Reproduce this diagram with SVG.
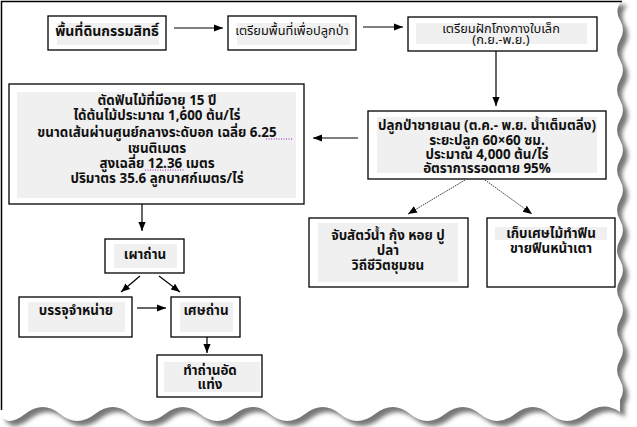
<svg xmlns="http://www.w3.org/2000/svg" width="637" height="427" viewBox="0 0 637 427">
<style>
.box{fill:#fff;stroke:#000;stroke-width:1.3}
.hl{fill:#f0f0f0}
.t{font-family:Tahoma,"Noto Sans Thai","Liberation Sans",sans-serif;font-size:13.4px;font-weight:bold;fill:#111;text-anchor:middle}
.n{font-weight:normal;font-size:12.8px}
.c{stroke:#000;stroke-width:1.2;fill:none;marker-end:url(#ah)}
.d{stroke:#333;stroke-width:1;stroke-dasharray:1.5 1;fill:none;marker-end:url(#ah)}
.sp{stroke:#a020c0;stroke-width:1;stroke-dasharray:1 1.5;fill:none}
</style>
<defs>
<marker id="ah" viewBox="0 0 10 10" refX="10" refY="5" markerWidth="9" markerHeight="9" markerUnits="userSpaceOnUse" orient="auto">
<path d="M0,1 L10,5 L0,9 z" fill="#000"/>
</marker>
<filter id="blur" x="-5%" y="-5%" width="110%" height="110%"><feGaussianBlur stdDeviation="2"/></filter>
</defs>
<rect width="637" height="427" fill="#fff"/>
<g id="paper">
<path d="M0,0 H622 Q614,10 620,20 T620,40 T620,60 T620,80 T620,100 T620,120 T620,140 T620,160 T620,180 T620,200 T620,220 T620,240 T620,260 T620,280 T620,300 T620,320 T620,340 T620,360 T620,380 T620,400 L620,412 Q603,400 585,414 T550,414 T515,414 T480,414 T445,414 T410,414 T375,414 T340,414 T305,414 T270,414 T235,414 T200,414 T165,414 T130,414 T95,414 T60,414 T25,414 T0,414 Z" fill="#777" transform="translate(5,5)" filter="url(#blur)"/>
<path d="M0,0 H622 Q614,10 620,20 T620,40 T620,60 T620,80 T620,100 T620,120 T620,140 T620,160 T620,180 T620,200 T620,220 T620,240 T620,260 T620,280 T620,300 T620,320 T620,340 T620,360 T620,380 T620,400 L620,412 Q603,400 585,414 T550,414 T515,414 T480,414 T445,414 T410,414 T375,414 T340,414 T305,414 T270,414 T235,414 T200,414 T165,414 T130,414 T95,414 T60,414 T25,414 T0,414 Z" fill="#fff"/>
<path d="M1.5,410 V1.5 H622" fill="none" stroke="#000" stroke-width="1.5"/>
</g>
<g id="connectors">
<line class="c" x1="174" y1="28" x2="223" y2="28"/>
<line class="c" x1="363" y1="27" x2="403" y2="27"/>
<line class="c" x1="496" y1="51" x2="496" y2="106"/>
<line class="c" x1="358" y1="138" x2="313" y2="138"/>
<line class="c" x1="142" y1="204" x2="142" y2="231"/>
<line class="c" x1="140" y1="276" x2="121" y2="292"/>
<line class="c" x1="159" y1="276" x2="180" y2="292"/>
<line class="c" x1="137" y1="308" x2="166" y2="308"/>
<line class="c" x1="207" y1="337" x2="207" y2="353"/>
<line class="d" x1="465" y1="180" x2="408" y2="214"/>
<line class="d" x1="485" y1="180" x2="532" y2="214"/>
</g>
<g id="n1">
<rect class="box" x="48" y="16" width="118" height="34"/>
<rect class="hl" x="57" y="23" width="102" height="22"/>
<text class="t" x="107" y="36" style="font-size:14px">พื้นที่ดินกรรมสิทธิ์</text>
</g>
<g id="n2">
<rect class="box" x="228" y="16" width="128" height="34"/>
<rect class="hl" x="237" y="23" width="113" height="22"/>
<text class="t n" x="292" y="35">เตรียมพื้นที่เพื่อปลูกป่า</text>
</g>
<g id="n3">
<rect class="box" x="408" y="17" width="189" height="34"/>
<rect class="hl" x="416" y="23" width="171" height="21"/>
<text class="t n" x="501" y="33">เตรียมฝักโกงกางใบเล็ก</text>
<text class="t n" x="501" y="44">(ก.ย.-พ.ย.)</text>
</g>
<g id="n4">
<rect class="box" x="368" y="111" width="238" height="68"/>
<rect class="hl" x="377" y="117" width="220" height="56"/>
<text class="t" x="487" y="130">ปลูกป่าชายเลน (ต.ค.- พ.ย. น้ำเต็มตลิ่ง)</text>
<text class="t" x="487" y="145">ระยะปลูก 60×60 ซม.</text>
<text class="t" x="487" y="159">ประมาณ 4,000 ต้น/ไร่</text>
<text class="t" x="487" y="173">อัตราการรอดตาย 95%</text>
</g>
<g id="n5">
<rect class="box" x="9" y="84" width="295" height="120"/>
<rect class="hl" x="17" y="92" width="279" height="106"/>
<text class="t" x="157" y="105">ตัดฟันไม้ที่มีอายุ 15 ปี</text>
<text class="t" x="157" y="120">ได้ต้นไม้ประมาณ 1,600 ต้น/ไร่</text>
<text class="t" x="157" y="137">ขนาดเส้นผ่านศูนย์กลางระดับอก เฉลี่ย 6.25</text>
<text class="t" x="157" y="153">เซนติเมตร</text>
<text class="t" x="157" y="168">สูงเฉลี่ย 12.36 เมตร</text>
<text class="t" x="157" y="183">ปริมาตร 35.6 ลูกบาศก์เมตร/ไร่</text>
<line class="sp" x1="266" y1="139" x2="292" y2="139"/>
<line class="sp" x1="145" y1="170" x2="184" y2="170"/>
</g>
<g id="n6">
<rect class="box" x="309" y="218" width="159" height="69"/>
<rect class="hl" x="318" y="223" width="140" height="59"/>
<text class="t" x="388" y="240">จับสัตว์น้ำ กุ้ง หอย ปู</text>
<text class="t" x="388" y="255">ปลา</text>
<text class="t" x="388" y="270">วิถีชีวิตชุมชน</text>
</g>
<g id="n7">
<rect class="box" x="487" y="218" width="128" height="69"/>
<rect class="hl" x="495" y="227" width="112" height="13"/>
<text class="t" x="551" y="238">เก็บเศษไม้ทำฟืน</text>
<text class="t" x="551" y="253">ขายฟืนหน้าเตา</text>
</g>
<g id="n8">
<rect class="box" x="105" y="239" width="79" height="34"/>
<rect class="hl" x="114" y="244" width="63" height="24"/>
<text class="t" x="145" y="259">เผาถ่าน</text>
</g>
<g id="n9">
<rect class="box" x="19" y="297" width="113" height="40"/>
<rect class="hl" x="28" y="302" width="97" height="30"/>
<text class="t" x="76" y="315">บรรจุจำหน่าย</text>
</g>
<g id="n10">
<rect class="box" x="171" y="297" width="69" height="40"/>
<rect class="hl" x="180" y="302" width="53" height="30"/>
<text class="t" x="206" y="315">เศษถ่าน</text>
</g>
<g id="n11">
<rect class="box" x="157" y="355" width="105" height="42"/>
<rect class="hl" x="164" y="362" width="96" height="30"/>
<text class="t" x="210" y="375">ทำถ่านอัด</text>
<text class="t" x="210" y="389">แท่ง</text>
</g>
</svg>
